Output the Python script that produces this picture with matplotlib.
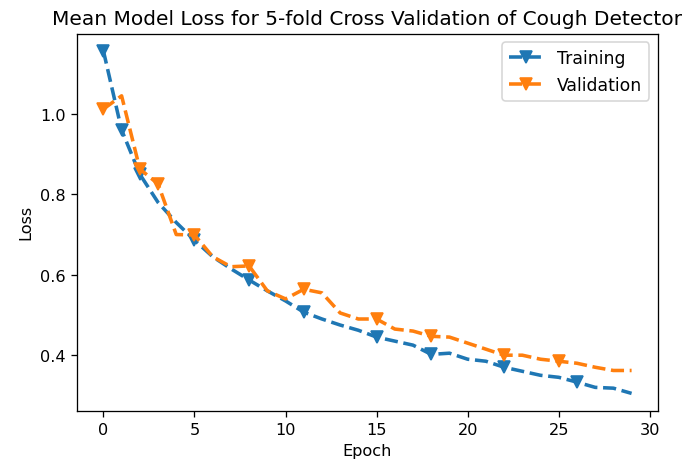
import matplotlib
matplotlib.use("Agg")
import matplotlib.pyplot as plt

# --- data ---
epochs = list(range(30))
train_loss = [1.157, 0.960, 0.850, 0.780, 0.730, 0.686, 0.645, 0.615, 0.587, 0.560,
              0.535, 0.507, 0.490, 0.475, 0.462, 0.445, 0.435, 0.425, 0.402, 0.405,
              0.390, 0.385, 0.370, 0.360, 0.350, 0.345, 0.333, 0.320, 0.318, 0.305]
val_loss = [1.012, 1.045, 0.863, 0.826, 0.700, 0.699, 0.645, 0.620, 0.622, 0.560,
            0.540, 0.564, 0.555, 0.505, 0.490, 0.490, 0.465, 0.460, 0.447, 0.445,
            0.430, 0.415, 0.400, 0.400, 0.390, 0.385, 0.380, 0.370, 0.362, 0.362]
train_marks = [0, 1, 2, 5, 8, 11, 15, 18, 22, 26]
val_marks = [0, 2, 3, 5, 8, 11, 15, 18, 22, 25]
# -------------------------------------

plt.figure(figsize=(6.0, 3.99), dpi=116)

plt.plot(epochs, train_loss, '--v', color='#1f77b4', linewidth=2.2,
         markersize=8, markevery=train_marks, label='Training')
plt.plot(epochs, val_loss, '--v', color='#ff7f0e', linewidth=2.2,
         markersize=8, markevery=val_marks, label='Validation')

plt.title('Mean Model Loss for 5-fold Cross Validation of Cough Detector', fontsize=12.5)
plt.xlabel('Epoch')
plt.ylabel('Loss')
plt.legend(loc='upper right', fontsize=10.7)

plt.subplots_adjust(left=0.1106, right=0.9454, top=0.9255, bottom=0.1112)
plt.savefig('out.png', dpi=116)
